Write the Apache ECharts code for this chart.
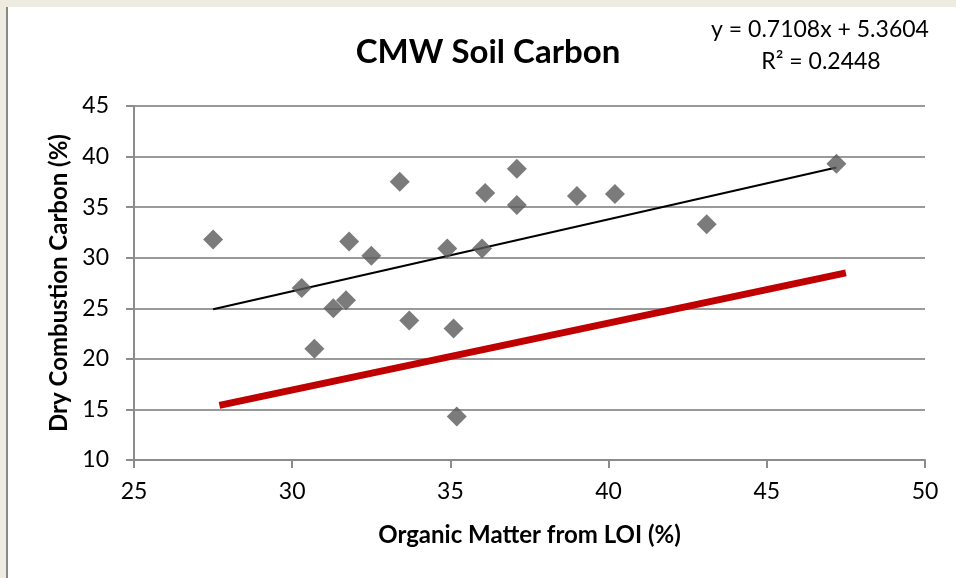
<!DOCTYPE html>
<html>
<head>
<meta charset="utf-8">
<script src="https://cdn.jsdelivr.net/npm/echarts@6/dist/echarts.min.js"></script>
<style>
html,body{margin:0;padding:0;background:#EEECE1;}
#frame{position:absolute;left:6px;top:7px;width:950px;height:571px;background:#fff;border-left:2px solid #888;box-sizing:border-box;}
#chart{position:absolute;left:0;top:0;width:956px;height:578px;}
</style>
</head>
<body>
<div id="frame"></div>
<div id="chart"></div>
<script>
// Data
const organicMatter = [27.5, 30.3, 30.7, 31.3, 31.7, 31.8, 32.5, 33.4, 33.7, 34.9, 35.1, 35.2, 36.0, 36.1, 37.1, 37.1, 39.0, 40.2, 43.1, 47.2];
const dryCarbon     = [31.8, 27.0, 21.0, 25.0, 25.8, 31.6, 30.2, 37.5, 23.8, 30.9, 23.0, 14.3, 30.9, 36.4, 38.8, 35.2, 36.1, 36.3, 33.3, 39.3];
const trendSlope = 0.7108;
const trendIntercept = 5.3604;
const trendR2 = 0.2448;
const redLineX = [27.7, 47.5];
const redLineY = [15.4, 28.5];
const xTicks = [25, 30, 35, 40, 45, 50];
const yTicks = [10, 15, 20, 25, 30, 35, 40, 45];

const points = organicMatter.map((x, i) => [x, dryCarbon[i]]);
const xMin = Math.min(...organicMatter), xMax = Math.max(...organicMatter);
const trendData = [[xMin, trendSlope * xMin + trendIntercept], [xMax, trendSlope * xMax + trendIntercept]];
const redData = redLineX.map((x, i) => [x, redLineY[i]]);

const FONT = 'Lato';
const chart = echarts.init(document.getElementById('chart'), null, {renderer: 'canvas'});
chart.setOption({
  backgroundColor: 'transparent',
  animation: false,
  grid: {left: 134, right: 31, top: 106, bottom: 118, containLabel: false},
  xAxis: {
    type: 'value', min: xTicks[0], max: xTicks[xTicks.length - 1], interval: 5,
    name: 'Organic Matter from LOI (%)', nameLocation: 'middle', nameGap: 63,
    nameTextStyle: {fontFamily: FONT, fontWeight: 'bold', fontSize: 24, color: '#000'},
    axisLine: {onZero: false, lineStyle: {color: '#8c8c8c', width: 2}},
    axisTick: {show: true, length: 8, inside: false, lineStyle: {color: '#8c8c8c', width: 2}},
    axisLabel: {fontFamily: FONT, fontSize: 23, color: '#000', margin: 20},
    splitLine: {show: false}
  },
  yAxis: {
    type: 'value', min: yTicks[0], max: yTicks[yTicks.length - 1], interval: 5,
    name: 'Dry Combustion Carbon (%)', nameLocation: 'middle', nameGap: 62,
    nameTextStyle: {fontFamily: FONT, fontWeight: 'bold', fontSize: 24, color: '#000'},
    axisLine: {show: true, onZero: false, lineStyle: {color: '#8c8c8c', width: 2}},
    axisTick: {show: true, length: 8, lineStyle: {color: '#8c8c8c', width: 2}},
    axisLabel: {fontFamily: FONT, fontSize: 23, color: '#000', margin: 25},
    splitLine: {show: true, lineStyle: {color: '#9a9a9a', width: 2}}
  },
  series: [
    {
      type: 'line', data: redData, symbol: 'none', z: 2,
      lineStyle: {color: '#C00000', width: 7, cap: 'butt'}
    },
    {
      type: 'line', data: trendData, symbol: 'none', z: 3,
      lineStyle: {color: '#000', width: 2}
    },
    {
      type: 'scatter', data: points, symbol: 'diamond', symbolSize: [20, 20], z: 4,
      itemStyle: {color: '#5a5a5a'}
    }
  ],
  graphic: [
    {type: 'text', x: 488, y: 52, style: {text: 'CMW Soil Carbon', font: 'bold 33px ' + FONT, fill: '#000', textAlign: 'center', textVerticalAlign: 'middle'}},
    {type: 'text', x: 820, y: 30, style: {text: 'y = ' + trendSlope + 'x + ' + trendIntercept, font: '23px ' + FONT, fill: '#000', textAlign: 'center', textVerticalAlign: 'middle'}},
    {type: 'text', x: 821, y: 62, style: {text: 'R² = ' + trendR2, font: '23px ' + FONT, fill: '#000', textAlign: 'center', textVerticalAlign: 'middle'}}
  ]
});
</script>
</body>
</html>
